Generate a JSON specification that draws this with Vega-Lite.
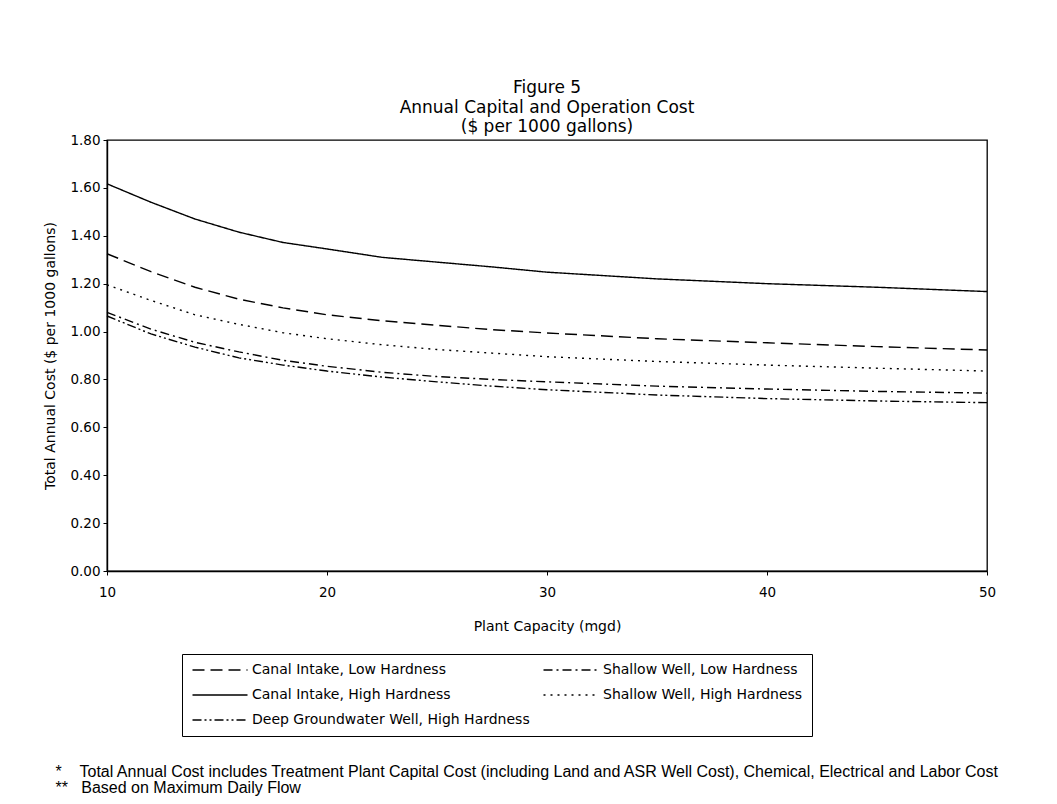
{
  "$schema": "https://vega.github.io/schema/vega-lite/v6.json",
  "autosize": {"type": "none"},
  "width": 880,
  "height": 431,
  "padding": {"left": 107, "top": 140, "right": 70, "bottom": 233},
  "background": "white",
  "title": {
    "text": ["Figure 5", "Annual Capital and Operation Cost", "($ per 1000 gallons)"],
    "font": "DejaVu Sans",
    "fontSize": 17,
    "fontWeight": "normal",
    "color": "black",
    "lineHeight": 19.5,
    "offset": -3,
    "anchor": "middle"
  },
  "data": {"values": [
    {"cap": 10, "cost": 1.325, "series": "Canal Intake, Low Hardness"},
    {"cap": 12, "cost": 1.25, "series": "Canal Intake, Low Hardness"},
    {"cap": 14, "cost": 1.185, "series": "Canal Intake, Low Hardness"},
    {"cap": 16, "cost": 1.135, "series": "Canal Intake, Low Hardness"},
    {"cap": 18, "cost": 1.099, "series": "Canal Intake, Low Hardness"},
    {"cap": 20, "cost": 1.07, "series": "Canal Intake, Low Hardness"},
    {"cap": 22.5, "cost": 1.045, "series": "Canal Intake, Low Hardness"},
    {"cap": 25, "cost": 1.026, "series": "Canal Intake, Low Hardness"},
    {"cap": 27.5, "cost": 1.008, "series": "Canal Intake, Low Hardness"},
    {"cap": 30, "cost": 0.994, "series": "Canal Intake, Low Hardness"},
    {"cap": 35, "cost": 0.97, "series": "Canal Intake, Low Hardness"},
    {"cap": 40, "cost": 0.953, "series": "Canal Intake, Low Hardness"},
    {"cap": 45, "cost": 0.937, "series": "Canal Intake, Low Hardness"},
    {"cap": 50, "cost": 0.923, "series": "Canal Intake, Low Hardness"},
    {"cap": 10, "cost": 1.617, "series": "Canal Intake, High Hardness"},
    {"cap": 12, "cost": 1.54, "series": "Canal Intake, High Hardness"},
    {"cap": 14, "cost": 1.47, "series": "Canal Intake, High Hardness"},
    {"cap": 16, "cost": 1.415, "series": "Canal Intake, High Hardness"},
    {"cap": 18, "cost": 1.372, "series": "Canal Intake, High Hardness"},
    {"cap": 20, "cost": 1.345, "series": "Canal Intake, High Hardness"},
    {"cap": 22.5, "cost": 1.31, "series": "Canal Intake, High Hardness"},
    {"cap": 25, "cost": 1.29, "series": "Canal Intake, High Hardness"},
    {"cap": 27.5, "cost": 1.27, "series": "Canal Intake, High Hardness"},
    {"cap": 30, "cost": 1.248, "series": "Canal Intake, High Hardness"},
    {"cap": 35, "cost": 1.22, "series": "Canal Intake, High Hardness"},
    {"cap": 40, "cost": 1.2, "series": "Canal Intake, High Hardness"},
    {"cap": 45, "cost": 1.185, "series": "Canal Intake, High Hardness"},
    {"cap": 50, "cost": 1.167, "series": "Canal Intake, High Hardness"},
    {"cap": 10, "cost": 1.195, "series": "Shallow Well, High Hardness"},
    {"cap": 12, "cost": 1.13, "series": "Shallow Well, High Hardness"},
    {"cap": 14, "cost": 1.07, "series": "Shallow Well, High Hardness"},
    {"cap": 16, "cost": 1.03, "series": "Shallow Well, High Hardness"},
    {"cap": 18, "cost": 0.995, "series": "Shallow Well, High Hardness"},
    {"cap": 20, "cost": 0.97, "series": "Shallow Well, High Hardness"},
    {"cap": 22.5, "cost": 0.945, "series": "Shallow Well, High Hardness"},
    {"cap": 25, "cost": 0.925, "series": "Shallow Well, High Hardness"},
    {"cap": 27.5, "cost": 0.91, "series": "Shallow Well, High Hardness"},
    {"cap": 30, "cost": 0.895, "series": "Shallow Well, High Hardness"},
    {"cap": 35, "cost": 0.875, "series": "Shallow Well, High Hardness"},
    {"cap": 40, "cost": 0.86, "series": "Shallow Well, High Hardness"},
    {"cap": 45, "cost": 0.847, "series": "Shallow Well, High Hardness"},
    {"cap": 50, "cost": 0.835, "series": "Shallow Well, High Hardness"},
    {"cap": 10, "cost": 1.08, "series": "Shallow Well, Low Hardness"},
    {"cap": 12, "cost": 1.01, "series": "Shallow Well, Low Hardness"},
    {"cap": 14, "cost": 0.955, "series": "Shallow Well, Low Hardness"},
    {"cap": 16, "cost": 0.915, "series": "Shallow Well, Low Hardness"},
    {"cap": 18, "cost": 0.88, "series": "Shallow Well, Low Hardness"},
    {"cap": 20, "cost": 0.855, "series": "Shallow Well, Low Hardness"},
    {"cap": 22.5, "cost": 0.83, "series": "Shallow Well, Low Hardness"},
    {"cap": 25, "cost": 0.812, "series": "Shallow Well, Low Hardness"},
    {"cap": 27.5, "cost": 0.8, "series": "Shallow Well, Low Hardness"},
    {"cap": 30, "cost": 0.79, "series": "Shallow Well, Low Hardness"},
    {"cap": 35, "cost": 0.772, "series": "Shallow Well, Low Hardness"},
    {"cap": 40, "cost": 0.76, "series": "Shallow Well, Low Hardness"},
    {"cap": 45, "cost": 0.75, "series": "Shallow Well, Low Hardness"},
    {"cap": 50, "cost": 0.743, "series": "Shallow Well, Low Hardness"},
    {"cap": 10, "cost": 1.065, "series": "Deep Groundwater Well, High Hardness"},
    {"cap": 12, "cost": 0.99, "series": "Deep Groundwater Well, High Hardness"},
    {"cap": 14, "cost": 0.935, "series": "Deep Groundwater Well, High Hardness"},
    {"cap": 16, "cost": 0.89, "series": "Deep Groundwater Well, High Hardness"},
    {"cap": 18, "cost": 0.86, "series": "Deep Groundwater Well, High Hardness"},
    {"cap": 20, "cost": 0.835, "series": "Deep Groundwater Well, High Hardness"},
    {"cap": 22.5, "cost": 0.81, "series": "Deep Groundwater Well, High Hardness"},
    {"cap": 25, "cost": 0.79, "series": "Deep Groundwater Well, High Hardness"},
    {"cap": 27.5, "cost": 0.772, "series": "Deep Groundwater Well, High Hardness"},
    {"cap": 30, "cost": 0.757, "series": "Deep Groundwater Well, High Hardness"},
    {"cap": 35, "cost": 0.735, "series": "Deep Groundwater Well, High Hardness"},
    {"cap": 40, "cost": 0.72, "series": "Deep Groundwater Well, High Hardness"},
    {"cap": 45, "cost": 0.71, "series": "Deep Groundwater Well, High Hardness"},
    {"cap": 50, "cost": 0.703, "series": "Deep Groundwater Well, High Hardness"}
  ]},
  "encoding": {
    "y": {
      "field": "cost",
      "type": "quantitative",
      "scale": {"domain": [0, 1.8], "nice": false},
      "axis": {
        "title": "Total Annual Cost ($ per 1000 gallons)",
        "values": [0, 0.2, 0.4, 0.6, 0.8, 1.0, 1.2, 1.4, 1.6, 1.8],
        "format": ".2f",
        "labelFontSize": 13.5,
        "titleFontSize": 14,
        "tickSize": 4,
        "labelPadding": 3,
        "titlePadding": 12,
        "labelFlush": false
      }
    }
  },
  "layer": [
    {
      "mark": {"type": "line", "color": "black", "strokeWidth": 1.4},
      "encoding": {
        "x": {
          "field": "cap",
          "type": "quantitative",
          "scale": {"domain": [10, 50], "nice": false, "zero": false},
          "axis": {
            "title": "Plant Capacity (mgd)",
            "values": [10, 20, 30, 40, 50],
            "labelFontSize": 13.5,
            "titleFontSize": 14,
            "tickSize": 4,
            "labelPadding": 10,
            "titlePadding": 21,
            "labelFlush": false
          }
        },
        "strokeDash": {
          "field": "series",
          "type": "nominal",
          "scale": {
            "domain": ["Canal Intake, Low Hardness", "Shallow Well, Low Hardness", "Canal Intake, High Hardness", "Shallow Well, High Hardness", "Deep Groundwater Well, High Hardness"],
            "range": [[12, 6], [9, 4, 2, 4], [1, 0], [2, 5], [9, 3, 2, 3, 2, 3]]
          },
          "legend": {
            "title": null,
            "orient": "none",
            "legendX": 75,
            "legendY": 514,
            "direction": "horizontal",
            "columns": 2,
            "gridAlign": "all",
            "columnPadding": 10,
            "rowPadding": 11,
            "padding": 9,
            "strokeColor": "black",
            "fillColor": "white",
            "symbolType": "M-5,0H5",
            "symbolSize": 121,
            "symbolOffset": 22,
            "symbolStrokeWidth": 1.4,
            "symbolStrokeColor": "black",
            "labelFontSize": 14,
            "labelOffset": 25,
            "labelLimit": 400
          }
        }
      }
    },
    {
      "mark": {"type": "line", "color": "black", "strokeOpacity": 0},
      "encoding": {
        "detail": {"field": "series"},
        "x": {
          "field": "cap",
          "type": "quantitative",
          "scale": {"domain": [10, 50], "nice": false, "zero": false},
          "axis": {
            "orient": "bottom",
            "domain": false,
            "ticks": false,
            "labels": false,
            "grid": false,
            "title": ["*\u00a0\u00a0\u00a0\u00a0Total Annual Cost includes Treatment Plant Capital Cost (including Land and ASR Well Cost), Chemical, Electrical and Labor Cost", "**\u00a0\u00a0\u00a0Based on Maximum Daily Flow"],
            "titleFont": "Liberation Sans",
            "titleFontSize": 16,
            "titleFontWeight": "normal",
            "titleAlign": "left",
            "titleAnchor": "start",
            "titleBaseline": "top",
            "titleAngle": 0,
            "titleX": -52,
            "titleY": 192,
            "titleLineHeight": 16.5
          }
        }
      }
    }
  ],
  "resolve": {"axis": {"x": "independent"}},
  "config": {
    "font": "DejaVu Sans",
    "view": {"stroke": "black", "strokeWidth": 1.3},
    "axis": {
      "grid": false,
      "domainColor": "black",
      "domainWidth": 1.4,
      "tickColor": "black",
      "labelColor": "black",
      "titleColor": "black",
      "labelFont": "DejaVu Sans",
      "titleFont": "DejaVu Sans",
      "titleFontWeight": "normal"
    },
    "legend": {"labelColor": "black", "labelFont": "DejaVu Sans"}
  }
}
